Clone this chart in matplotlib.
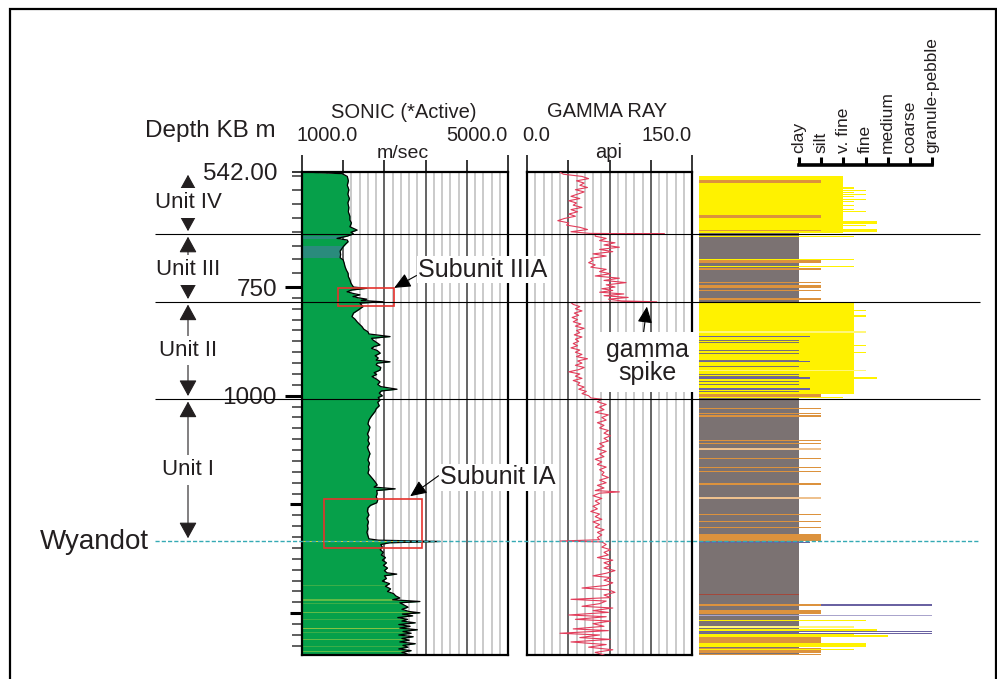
import numpy as np
import matplotlib.pyplot as plt
from matplotlib.patches import Rectangle
from matplotlib.transforms import TransformedPath

plt.rcParams['font.family'] = ['Liberation Sans', 'DejaVu Sans']

# ---------------- data ----------------
sonic_range = [1000.0, 5000.0]
gamma_range = [0.0, 150.0]
depth_top, depth_bot = 542.0, 1596.0

depth_major = [542, 750, 1000, 1250, 1500]
depth_major_lab = ['542.00', '750', '1000', '', '']

sonic_depth = [542, 545, 550, 558, 566, 574, 582, 590, 598, 606,
               614, 622, 629, 634, 641, 647, 651, 654, 658, 662,
               665, 668, 672, 677, 685, 691, 697, 701, 707, 713,
               719, 725, 731, 737, 743, 746, 750, 753, 757, 761,
               765, 768, 772, 775, 778, 781, 784, 787, 795, 803,
               810, 818, 824, 830, 836, 841, 847, 853, 858, 864,
               868, 872, 877, 883, 887, 891, 896, 902, 908, 913,
               918, 922, 925, 929, 935, 941, 947, 951, 956, 962,
               968, 974, 979, 985, 989, 994, 1000, 1004, 1010, 1015,
               1023, 1030, 1036, 1045, 1050, 1056, 1065, 1072, 1080, 1088,
               1095, 1103, 1110, 1118, 1125, 1133, 1140, 1148, 1155, 1163,
               1170, 1178, 1185, 1192, 1198, 1205, 1210, 1214, 1218, 1225,
               1232, 1240, 1246, 1252, 1258, 1266, 1274, 1282, 1290, 1298,
               1306, 1314, 1322, 1329, 1332, 1335, 1338, 1342, 1348, 1354,
               1360, 1366, 1372, 1378, 1384, 1390, 1396, 1402, 1407, 1410,
               1414, 1420, 1426, 1432, 1438, 1444, 1450, 1455, 1460, 1465,
               1469, 1473, 1476, 1481, 1486, 1491, 1496, 1499, 1502, 1506,
               1510, 1514, 1518, 1522, 1526, 1530, 1534, 1538, 1542, 1546,
               1550, 1554, 1558, 1562, 1566, 1570, 1574, 1578, 1582, 1586,
               1590, 1594, 1596]
sonic_vel = [1050, 1780, 1880, 1900, 1880, 1910, 1890, 1920, 1890, 1910,
             1900, 1930, 1930, 1960, 1930, 2070, 1950, 2000, 1875, 1680,
             1880, 1895, 1850, 1800, 1740, 1750, 1740, 1800, 1820, 1835,
             1860, 1895, 1900, 1930, 1950, 1970, 2000, 2260, 1960, 1875,
             2000, 2125, 1990, 2100, 2260, 2150, 2575, 2125, 2185, 2090,
             2000, 1970, 2030, 2070, 2120, 2165, 2200, 2280, 2300, 2710,
             2350, 2380, 2440, 2515, 2400, 2350, 2460, 2520, 2420, 2480,
             2440, 2710, 2460, 2440, 2530, 2515, 2400, 2450, 2360, 2450,
             2515, 2470, 2530, 2845, 2540, 2500, 2560, 2480, 2515, 2470,
             2500, 2440, 2420, 2360, 2330, 2300, 2280, 2320, 2300, 2270,
             2300, 2280, 2310, 2270, 2290, 2320, 2300, 2280, 2310, 2290,
             2300, 2280, 2330, 2380, 2420, 2460, 2400, 2810, 2450, 2460,
             2440, 2470, 2450, 2330, 2280, 2270, 2300, 2260, 2290, 2270,
             2280, 2260, 2280, 2300, 2480, 3680, 2700, 2530, 2560, 2520,
             2580, 2540, 2620, 2560, 2640, 2580, 2660, 2600, 2650, 2840,
             2600, 2640, 2560, 2700, 2620, 2720, 2660, 2780, 2820, 2900,
             2760, 3290, 2900, 2980, 3060, 2940, 3080, 3290, 2950, 3150,
             2860, 3050, 2940, 3200, 2880, 3100, 2900, 3240, 2960, 3120,
             2880, 3160, 2940, 3080, 2900, 3200, 2960, 3060, 2880, 3120,
             2940, 3050, 3000]

# coloured streaks inside the sonic fill
sonic_band_top = [658, 676, 1333, 1434, 1468, 1476, 1498, 1514, 1533, 1544, 1560, 1576, 1586]
sonic_band_bot = [663, 697, 1336, 1437, 1471, 1478, 1500, 1516, 1536, 1546, 1562, 1578, 1588]
sonic_band_col = ['#2a8b7c', '#2a8b7c', '#cfd63c', '#3cae48', '#62bb46', '#3cae48', '#62bb46',
                  '#3cae48', '#86c243', '#3cae48', '#62bb46', '#3cae48', '#62bb46']

gamma_depth = [542, 546, 550, 554, 558, 562, 566, 570, 574, 578,
               582, 586, 590, 594, 598, 602, 606, 610, 614, 618,
               622, 626, 630, 634, 638, 642, 646, 650, 653,
               654, 655,
               658, 662, 666, 670, 674, 678, 682, 686, 690, 694,
               698, 702, 706, 710, 714, 718, 722, 726, 730, 734,
               738, 742, 746, 750, 754, 758, 762, 766, 770, 774,
               778, 782, 784, 786,
               790, 795, 800, 805, 810, 815, 820, 825, 830, 835,
               840, 845, 850, 855, 860, 865, 870, 875, 880, 885,
               890, 895, 900, 905, 910, 915, 920, 925, 930, 935,
               940, 945, 950, 955, 960, 965, 970, 975, 980, 985,
               990, 995, 1000, 1005,
               1008, 1014, 1020, 1026, 1032, 1038, 1044, 1050, 1056, 1062,
               1068, 1074, 1080, 1086, 1092, 1098, 1104, 1110, 1116, 1122,
               1128, 1134, 1140, 1146, 1152, 1158, 1164, 1170, 1176, 1182,
               1188, 1194, 1200, 1206, 1212, 1218, 1221, 1224,
               1230, 1236, 1242, 1248, 1254, 1260, 1266, 1272, 1278, 1284,
               1290, 1296, 1302, 1308, 1314, 1320, 1326, 1331, 1334, 1336,
               1342, 1348, 1354, 1360, 1366, 1372, 1378, 1384, 1390, 1396,
               1402, 1408, 1414, 1418, 1424, 1430, 1436, 1442, 1446, 1452,
               1458, 1464, 1468, 1472, 1478, 1484, 1488, 1494, 1498, 1504,
               1508, 1514, 1518, 1524, 1530, 1536, 1540, 1546, 1550, 1556,
               1560, 1566, 1572, 1578, 1584, 1590, 1596]
gamma_api = [30, 33, 50, 56, 45, 52, 48, 55, 44, 52,
             46, 40, 48, 38, 45, 42, 50, 40, 46, 38,
             44, 34, 28, 38, 36, 48, 55, 40, 57,
             125, 62,
             62, 72, 66, 80, 70, 84, 66, 78, 60, 72,
             58, 60, 56, 62, 58, 72, 66, 76, 62, 84,
             70, 90, 72, 80, 68, 78, 66, 88, 70, 92,
             74, 86, 118, 40,
             42, 48, 44, 50, 43, 47, 41, 46, 42, 49,
             44, 52, 45, 48, 43, 50, 44, 47, 42, 46,
             40, 48, 44, 50, 45, 55, 46, 50, 44, 52,
             47, 38, 48, 44, 50, 42, 48, 46, 52, 47,
             54, 50, 56, 58,
             68, 64, 72, 66, 70, 62, 74, 68, 72, 64,
             70, 66, 74, 70, 76, 70, 74, 66, 70, 64,
             72, 66, 70, 62, 68, 64, 72, 66, 70, 68,
             74, 66, 72, 64, 70, 62, 84, 66,
             60, 68, 62, 66, 60, 64, 58, 66, 62, 68,
             60, 66, 62, 70, 64, 68, 64, 66, 30, 68,
             72, 68, 76, 70, 74, 64, 78, 70, 76, 70,
             80, 72, 60, 76, 70, 78, 72, 50, 74, 80,
             70, 76, 40, 72, 66, 50, 78, 60, 74, 38,
             72, 44, 76, 60, 70, 42, 74, 30, 66, 48,
             76, 40, 72, 56, 78, 62, 70]

unit_names = ['Unit IV', 'Unit III', 'Unit II', 'Unit I']
unit_tops = [542, 654, 784, 1007]
unit_bases = [654, 784, 1007, 1334]
wyandot_depth = 1334

# red boxes (velocity range, depth range) for the sub-units
box_vel = [(1700, 2790), (1430, 3330)]
box_depth = [(752, 793), (1237, 1350)]

grain_classes = ['clay', 'silt', 'v. fine', 'fine', 'medium', 'coarse', 'granule-pebble']

# lithology intervals: top, base, grain size (0=clay ... 6=granule), kind
litho_top = [652, 549, 556, 570, 574, 578, 581, 585, 590, 594, 601, 608, 612,
             620, 630, 637, 645, 646, 658, 699, 702, 712, 715, 740, 746, 758, 776,
             785, 802, 815, 852, 863, 871, 877, 883, 895, 899, 901, 917, 921, 931,
             940, 949, 954, 958, 958, 967, 974, 983, 990, 996, 1004,
             1029, 1039, 1045, 1071, 1101, 1108, 1121, 1133, 1144, 1163, 1174, 1200,
             1233, 1248, 1273, 1289, 1301, 1318, 1337, 1455,
             1479, 1479, 1492, 1503, 1510, 1515, 1530, 1537, 1540, 1545, 1547, 1551,
             1554, 1569, 1580, 1582, 1593]
litho_base = [1596, 652, 562, 572, 576, 580, 583, 587, 592, 597, 603, 610, 614,
              625, 636, 640, 650, 649, 660, 701, 706, 714, 719, 742, 752, 760, 781,
              996, 805, 818, 855, 866, 873, 879, 886, 898, 901, 904, 919, 923, 934,
              943, 952, 956, 961, 961, 969, 976, 986, 992, 1003, 1006,
              1031, 1041, 1050, 1073, 1103, 1110, 1124, 1135, 1146, 1165, 1176, 1206,
              1237, 1250, 1275, 1291, 1303, 1334, 1339, 1457,
              1483, 1483, 1502, 1506, 1512, 1517, 1533, 1540, 1542, 1547, 1549, 1554,
              1569, 1578, 1592, 1584, 1596]
litho_grain = [0, 2, 1, 2.5, 3, 2.5, 3, 2.5, 3, 2.5, 2.5, 2.5, 3,
               1, 3.5, 3, 3.5, 1, 2.5, 2.5, 1, 2.5, 1, 1, 1, 1, 1,
               2.5, 3, 3, 3, 0.5, 0, 0, 3, 0, 3, 0, 0, 0.5, 0,
               3, 0, 0, 3.5, 0.5, 0, 0, 0.5, 0, 1, 2,
               1, 1, 1, 1, 1, 1, 1, 1, 1, 1, 1, 1,
               1, 1, 1, 1, 1, 1, 0.5, 0,
               6, 1, 1, 6, 3.5, 3, 2.5, 3.5, 6, 6, 2.5, 4,
               1, 3, 1, 2.5, 1]
litho_kind = ['mud', 'sand', 'silt', 'sand', 'sand', 'sand', 'sand', 'sand', 'sand', 'sand', 'sand', 'sand', 'sand',
              'silt', 'sand', 'sand', 'sand', 'silt', 'sand', 'sand', 'silt', 'sand', 'silt', 'silt', 'silt', 'silt', 'silt',
              'sand', 'sand', 'sand', 'lsand', 'purple', 'mud', 'mud', 'sand', 'mud', 'sand', 'mud', 'mud', 'purple', 'mud',
              'lsand', 'mud', 'mud', 'sand', 'purple', 'mud', 'mud', 'purple', 'mud', 'silt', 'sand',
              'silt', 'silt', 'silt', 'silt', 'silt', 'silt', 'lsilt', 'silt', 'silt', 'silt', 'silt', 'silt',
              'lsilt', 'silt', 'silt', 'silt', 'silt', 'silt', 'purple', 'brown',
              'purple', 'silt', 'silt', 'lpurple', 'sand', 'sand', 'lsand', 'sand', 'purple', 'purple', 'sand', 'sand',
              'silt', 'sand', 'silt', 'sand', 'silt']
lith_colors = {'mud': '#7b7272', 'sand': '#fff200', 'lsand': '#fff67a', 'silt': '#dc923d',
               'lsilt': '#eec18e', 'purple': '#6a62a2', 'lpurple': '#aaa4cc', 'brown': '#a2483c'}

# ---------------- figure ----------------
W, H = 997, 679
TOP, BOT = 172, 655
TXT = '#231f20'
fig = plt.figure(figsize=(W / 100, H / 100), dpi=100)


def fx(x):
    return x / W


def fy(y):
    return 1 - y / H


# depth scale of the log: upper part (above 750 m) is stretched
def fwd(d):
    d = np.asarray(d, dtype=float)
    return np.where(d <= 750, (d - 542) * 0.5531, 115.0 + (d - 750) * 0.435)


def inv(p):
    p = np.asarray(p, dtype=float)
    return np.where(p <= 115, 542 + p / 0.5531, 750 + (p - 115) / 0.435)


def track(x0, x1):
    ax = fig.add_axes([fx(x0), fy(BOT), (x1 - x0) / W, (BOT - TOP) / H])
    ax.set_yscale('function', functions=(fwd, inv))
    ax.set_ylim(depth_bot, depth_top)
    return ax


def log_grid(ax, lo, hi, major, minor):
    maj = np.arange(lo, hi + 1e-6, major)
    mnr = [v for v in np.arange(lo, hi + 1e-6, minor) if not np.isclose((v - lo) % major, 0)
           and not np.isclose((v - lo) % major, major)]
    ax.set_xlim(lo, hi)
    ax.set_xticks(maj)
    ax.set_xticks(mnr, minor=True)
    ax.xaxis.tick_top()
    ax.tick_params(axis='x', which='major', direction='out', length=8.6, width=1.1, labeltop=False)
    ax.tick_params(axis='x', which='minor', length=0, labeltop=False)
    ax.grid(axis='x', which='minor', color='#c6c6c6', lw=1.3)
    ax.grid(axis='x', which='major', color='#3a3a3a', lw=1.1)
    ax.set_axisbelow(True)
    xt = ax.xaxis.get_major_ticks()
    for t in (xt[0], xt[-1]):
        t.tick2line.set_markersize(12.2)
    for s in ax.spines.values():
        s.set_linewidth(1.6)


# --- sonic track
ax_s = track(302, 508)
log_grid(ax_s, sonic_range[0], sonic_range[1], 800, 160)
fill = ax_s.fill_betweenx(sonic_depth, sonic_range[0], sonic_vel, color='#06a04a', lw=0, zorder=2)
clip = TransformedPath(fill.get_paths()[0], ax_s.transData)
for a, b, c in zip(sonic_band_top, sonic_band_bot, sonic_band_col):
    band = ax_s.axhspan(a, b, color=c, lw=0, zorder=2.5)
    band.set_clip_path(clip)
ax_s.plot(sonic_vel, sonic_depth, color='k', lw=0.9, zorder=3)
for (v0, v1), (d0, d1) in zip(box_vel, box_depth):
    ax_s.add_patch(Rectangle((v0, d0), v1 - v0, d1 - d0, fill=False, ec='#e5322d', lw=1.2, zorder=4))

ax_s.set_yticks(depth_major, depth_major_lab, fontsize=17.5, color=TXT)
ax_s.set_yticks([d for d in range(550, 1600, 25) if d not in depth_major], minor=True)
ax_s.tick_params(axis='y', which='major', direction='out', length=12, width=2.2, pad=6)
ax_s.tick_params(axis='y', which='minor', direction='out', length=7, width=1.1, color='#333333')
yt = ax_s.yaxis.get_major_ticks()
yt[0].tick1line.set_markersize(7)
yt[0].tick1line.set_markeredgewidth(1.1)
for t in yt[3:]:
    t.tick1line.set_markersize(8.5)

# --- gamma track
ax_g = track(527, 692)
log_grid(ax_g, gamma_range[0], gamma_range[1], 37.5, 7.5)
ax_g.plot(gamma_api, gamma_depth, color='#e23c5a', lw=0.8, zorder=3)
ax_g.tick_params(axis='y', which='both', left=False, labelleft=False)

# --- lithology / grain size column
ax_l = track(699, 980)
x_left = -4.51
ax_l.set_xlim(x_left, 8.16)
ax_l.patch.set_visible(False)
for side in ['left', 'right', 'bottom']:
    ax_l.spines[side].set_visible(False)
ax_l.spines['top'].set_position(('outward', 5))
ax_l.spines['top'].set_bounds(0, 6)
ax_l.spines['top'].set_linewidth(2.6)
ax_l.xaxis.tick_top()
ax_l.set_xticks(range(len(grain_classes)), grain_classes, rotation=90, fontsize=12.5, color=TXT)
ax_l.tick_params(axis='x', direction='out', length=6, width=2.2, pad=3)
ax_l.tick_params(axis='y', which='both', left=False, labelleft=False)
centers = [(t + b) / 2 for t, b in zip(litho_top, litho_base)]
heights = [b - t for t, b in zip(litho_top, litho_base)]
widths = [g - x_left for g in litho_grain]
ax_l.barh(centers, widths, left=x_left, height=heights,
          color=[lith_colors[k] for k in litho_kind], lw=0)

# --- overlay: unit boundaries, arrows and annotations
ax_o = fig.add_axes([0, fy(BOT), 1, (BOT - TOP) / H])
ax_o.set_yscale('function', functions=(fwd, inv))
ax_o.set_ylim(depth_bot, depth_top)
ax_o.set_xlim(0, W)
ax_o.axis('off')
ax_o.set_zorder(5)
ax_o.hlines(unit_bases[:-1], 155, 980, color='k', lw=0.8, clip_on=False)
ax_o.hlines(wyandot_depth, 155, 980, color='#35aab4', lw=1.0, linestyles=(0, (3, 1.5)))

for name, t, b in zip(unit_names, unit_tops, unit_bases):
    ax_o.annotate('', xy=(188, t), xytext=(188, b), annotation_clip=False,
                  arrowprops=dict(arrowstyle='<|-|>,head_length=1.0,head_width=0.55', mutation_scale=10,
                                  lw=0.8, color=TXT, shrinkA=2, shrinkB=2))
    ax_o.text(188, (t + b) / 2, name, ha='center', va='center', fontsize=16, color=TXT,
              bbox=dict(fc='white', ec='none', pad=3))

ax_o.annotate('Wyandot', xy=(149, wyandot_depth), xytext=(0, -5.8), textcoords='offset points',
              ha='right', va='baseline', fontsize=20, color=TXT)

arrow_kw = dict(arrowstyle='-|>,head_length=1.0,head_width=0.45', mutation_scale=10,
                color='k', lw=0.8, shrinkA=0, shrinkB=0)
ax_o.annotate('Subunit IIIA', xy=(box_vel[0][1], box_depth[0][0]), xycoords=ax_s.transData,
              xytext=(418, 719), textcoords='data', ha='left', va='center', fontsize=18, color=TXT,
              bbox=dict(fc='white', ec='none', pad=1), arrowprops=dict(relpos=(0, 0.3), **arrow_kw))
ax_o.annotate('Subunit IA', xy=(3100, 1231), xycoords=ax_s.transData,
              xytext=(440, 1187), textcoords='data', ha='left', va='center', fontsize=18, color=TXT,
              bbox=dict(fc='white', ec='none', pad=1), arrowprops=dict(relpos=(0, 0.6), **arrow_kw))
ax_o.annotate('gamma\nspike', xy=(109, 795), xycoords=ax_g.transData,
              xytext=(647, 922), textcoords='data', ha='center', va='center', multialignment='center',
              fontsize=18, color=TXT, linespacing=0.95,
              bbox=dict(fc='white', ec='none', boxstyle='square,pad=0.25'),
              arrowprops=dict(relpos=(0.45, 1.0), **arrow_kw))

# --- header texts
fig.text(fx(145), fy(137), 'Depth KB m', fontsize=17.5, ha='left', va='baseline', color=TXT)
fig.text(fx(404), fy(118), 'SONIC (*Active)', fontsize=14.5, ha='center', va='baseline', color=TXT)
fig.text(fx(296), fy(141), '%.1f' % sonic_range[0], fontsize=14.5, ha='left', va='baseline', color=TXT)
fig.text(fx(507), fy(141), '%.1f' % sonic_range[1], fontsize=14.5, ha='right', va='baseline', color=TXT)
fig.text(fx(403), fy(158), 'm/sec', fontsize=14, ha='center', va='baseline', color=TXT)
fig.text(fx(607), fy(117), 'GAMMA RAY', fontsize=14.5, ha='center', va='baseline', color=TXT)
fig.text(fx(522), fy(141), '%.1f' % gamma_range[0], fontsize=14.5, ha='left', va='baseline', color=TXT)
fig.text(fx(692), fy(141), '%.1f' % gamma_range[1], fontsize=14.5, ha='right', va='baseline', color=TXT)
fig.text(fx(609), fy(158), 'api', fontsize=14.5, ha='center', va='baseline', color=TXT)

# outer frame
fig.add_artist(Rectangle((fx(10), fy(720)), fx(996) - fx(10), fy(9) - fy(720),
                         transform=fig.transFigure, fill=False, ec='k', lw=1.6))

fig.savefig('out.png', dpi=100)
